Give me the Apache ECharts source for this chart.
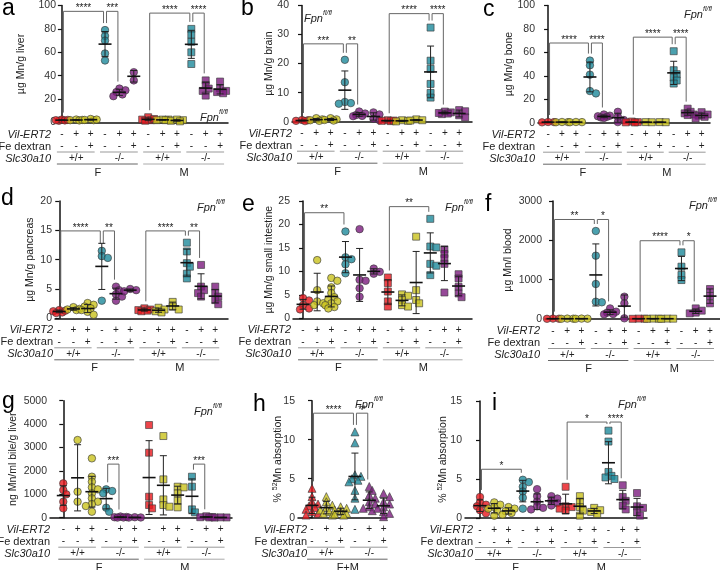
<!DOCTYPE html>
<html><head><meta charset="utf-8">
<script src="https://cdn.jsdelivr.net/npm/echarts@6/dist/echarts.min.js"></script>
<style>html,body{margin:0;padding:0;background:#fff}#c{width:720px;height:570px}</style>
</head><body><div id="c"></div>
<script>
// ---------- table / tick labels ----------
const vilRow = ['-','+','+','-','+','+','-','+','+','-','+','+'];
const feRow = ['-','-','+','-','-','+','-','-','+','-','-','+'];
const genotypeLabels = ['+/+','-/-','+/+','-/-'];
const sexLabels = ['F','M'];
const pooledSexLabels = ['F+M'];
const groupColors = ['#e8161d','#c9c21d','#c9c21d','#1e8a9b','#7c1c7e','#7c1c7e'];

const aTicks = [0,20,40,60,80,100];
const bTicks = [0,10,20,30,40];
const cTicks = [0,20,40,60,80,100];
const dTicks = [0,5,10,15,20];
const eTicks = [0,5,10,15,20,25];
const fTicks = [0,1000,2000,3000];
const gTicks = [0,1000,2000,3000,4000,5000];
const hTicks = [0,5,10,15];
const iTicks = [0,5,10,15];

// ---------- values (groups: F red, F yel, F yel, F teal, F pur, F pur, M ...) ----------
const aData = [
 [1.5,2.5,2,1.8,2.2],[2,2.5,1.8,2.2],[2,3,2.5,2.2],
 [79,74,70,59,53],[29,27.5,26,24,22.5],[43,36],
 [4.5,2,2.5,3,1.5],[2.5,2,2.5,2],[2,1.5,2.5,1],
 [80,75,69,60,50],[36,32,29,27,23],[35,29,27,26,25]
];
const bData = [
 [0.5,0.3,0.6,0.2],[1.2,0.8,0.5,0.3],[1.2,0.8,0.6,0.4],
 [21.3,13.6,6.8,6.4,6.2],[3.5,2.8,2.3,2.0,1.9],[3.2,2.5,1.0,0.5],
 [0.5,0.3,0.2,0.4],[0.5,0.3,0.1],[0.8,0.4,0.5],
 [32.4,21,18.2,13,9.9,8.3],[3.5,3.2,2.8,2.6,3.0],[4.0,3.6,2.2,1.5]
];
const cData = [
 [0.5,0.3,0.6],[0.5,0.4,0.6],[0.5,0.4,0.6],
 [53,49,41,27,25],[7,6,5.5,5,4.5,4],[9.3,5,2.3,0.5],
 [1,0.5,0.3,0.2],[0.5,0.4],[0.5,0.4],
 [61,44.8,41.4,38.5,36,33.4],[12,9.3,8,7,6.5],[9,7,6,5,3.7]
];
const dData = [
 [1.4,1.2,1.0,1.3,0.9],[1.9,1.6,1.4,1.5],[2.6,2.3,2.0,1.7,1.4,1.1,0.6],
 [11.5,10.6,10.3,3.0],[5.4,4.8,4.1,3.7,3.0],[5.0,4.8,4.6],
 [1.7,1.5,1.3,1.4,1.2],[1.8,1.5,1.2,1.0],[2.8,2.0,1.5],
 [12.9,11.4,9.4,8.8,7.6,6.8],[9.1,5.4,4.8,4.3,3.7],[5.4,4.3,3.7,3.1,2.4]
];
const eData = [
 [4.3,3.8,2.8,2.1,1.9],[12.4,6.0,3.6,3.2,2.8],[8.6,8.0,6.6,5.4,4.5,4.0,3.6,3.2,2.8,2.4,2.1],
 [18.5,13.0,12.6,11.5,9.6],[19.0,8.2,8.0,6.4,4.6],[10.6,9.9,9.5],
 [8.7,7.5,5.7,3.6,2.5],[5.1,4.8,3.9,2.8,2.5],[17.4,6.0,3.9,3.2],
 [21.2,15.3,15.1,11.6,11.2,9.2],[14.7,13.7,12.8,11.6,5.5],[9.4,8.5,6.7,5.3,4.5]
];
const fData = [
 [10,5,8],[10,5,8],[10,8,5],
 [2237,1610,890,440,424],[270,186,161,127,118],[568,398,17],
 [10,5,8],[10,5,8],[10,5,8],
 [1695,1330,1119,990],[270,212,161,144],[763,585,398]
];
const gData = [
 [1467,1182,997,684,399],[3319,1111,684],[2536,1752,1538,1296,1211,1040,826,684,584,499,256],
 [1211,1140,1040,427,256],[50,30,20,10,5],[20,10,5],
 [3960,2778,897,541,399],[3490,1638,783,541,470],[1325,1296,1040,726,442],
 [1752,1325,356,228],[60,30,20,10],[10,5,15]
];
const hData = [
 [3.76,2.7,2.05,1.75,1.5,1.3,1.07,0.77,0.55,0.34],
 [2.7,2.05,1.6,1.3,1.0,0.77,0.55,0.34],
 [1.4,1.2,1.0,0.77,0.55,0.47,0.34],
 [11.0,9.6,5.5,5.3,5.0,4.8,4.6,3.5,2.5,1.07],
 [4.0,3.5,2.9,2.5,2.05,1.75,1.4,1.2,0.9],
 [3.1,2.7,2.05,1.75,1.4,1.2,0.77,0.55,0.13]
];
const iData = [
 [2.7,2.0,1.7,1.5,1.0,0.6],[2.0,1.7,1.4,1.2,0.9,0.3],[1.4,1.2,0.86,0.65,0.43],
 [4.9,4.6,4.0,3.4,2.6,1.2],[3.7,2.8,2.1,1.5,1.3,1.1],[2.8,2.5,2.2,1.9,1.6],
 [4.0,1.5,1.4,1.2,0.95],[2.8,2.1,1.4,0.95,0.3],[1.3,1.0,0.78,0.52],
 [11.2,9.8,5.9,5.4,5.2,5.0],[4.2,2.7,2.2,1.6,1.1],[3.2,1.5,1.3,0.73,0.3]
];

// ---------- significance brackets [fromGroup, toGroup, height, label] ----------
const aBrackets = [[0,3,95,'****'],[3,4,95,'***'],[6,9,93.5,'****'],[9,10,93.5,'****']];
const bBrackets = [[0,3,26.8,'***'],[3,4,26.8,'**'],[6,9,37.2,'****'],[9,10,37.2,'****']];
const cBrackets = [[0,3,68,'****'],[3,4,68,'****'],[6,9,73,'****'],[9,10,73,'****']];
const dBrackets = [[0,3,14.9,'****'],[3,4,14.9,'**'],[6,9,14.9,'****'],[9,10,14.9,'**']];
const eBrackets = [[0,3,22.5,'**'],[6,9,23.8,'**']];
const fBrackets = [[0,3,2530,'**'],[3,4,2530,'*'],[6,9,1990,'****'],[9,10,1990,'*']];
const gBrackets = [[3,4,2290,'***'],[9,10,2290,'***']];
const hBrackets = [[0,3,13.4,'****'],[3,4,13.4,'**']];
const iBrackets = [[0,3,6.25,'*'],[6,9,12.3,'*'],[9,10,12.3,'****']];

const FF = "'Liberation Sans', Arial, Helvetica, sans-serif";
const SUPNAME = '% {sup|52}Mn absorption';

// ---------- layout ----------
const panels = [
 {data:aData, br:aBrackets, ticks:aTicks, name:'µg Mn/g liver', left:59, top:5, width:169, height:117.5, xMin:-0.2, xMax:11.55, gap:31, move:false, lr:51, sym:['circle','rect'], sex:sexLabels},
 {data:bData, br:bBrackets, ticks:bTicks, name:'µg Mn/g brain', left:292, top:4.5, width:180, height:117.2, xMin:-0.7, xMax:11.9, gap:16, move:false, lr:292, sym:['circle','rect'], sex:sexLabels},
 {data:cData, br:cBrackets, ticks:cTicks, name:'µg Mn/g bone', left:538, top:5, width:172, height:117.7, xMin:-0.72, xMax:11.6, gap:22, move:false, lr:535, sym:['circle','rect'], sex:sexLabels},
 {data:dData, br:dBrackets, ticks:dTicks, name:'µg Mn/g pancreas', left:55, top:201, width:173, height:117.3, xMin:-0.3, xMax:11.9, gap:18, move:false, lr:53, sym:['circle','rect'], sex:sexLabels},
 {data:eData, br:eBrackets, ticks:eTicks, name:'µg Mn/g small intestine', left:293, top:201, width:179, height:117.3, xMin:-0.71, xMax:11.95, gap:17, move:false, lr:291, sym:['circle','rect'], sex:sexLabels},
 {data:fData, br:fBrackets, ticks:fTicks, name:'µg Mn/l blood', left:545, top:201, width:175, height:118, xMin:-0.56, xMax:11.7, gap:18, move:true, lr:540, sym:['circle','rect'], sex:sexLabels},
 {data:gData, br:gBrackets, ticks:gTicks, name:'ng Mn/ml bile/g liver', left:50, top:400.7, width:182, height:117, xMin:-0.93, xMax:11.8, gap:20, move:true, lr:50, sym:['circle','rect'], sex:sexLabels},
 {data:hData, br:hBrackets, ticks:hTicks, name:SUPNAME, left:298, top:400.7, width:89, height:117, xMin:-0.98, xMax:5.24, gap:13, move:false, lr:307, sym:['triangle','triangle'], sex:pooledSexLabels},
 {data:iData, br:iBrackets, ticks:iTicks, name:SUPNAME, left:465, top:401, width:182, height:117, xMin:-1.05, xMax:11.7, gap:15, move:false, lr:473, sym:['circle','rect'], sex:sexLabels}
];
const letters = [['a',2,-3],['b',241,-3],['c',483,-2],['d',1,187],['e',242,193],['f',485,193],['g',2,390],['h',253,393],['i',492,392]];
const fpnPos = [[200,109],[304,10],[684,6],[197,199],[445,199],[689,197],[194,403],[355,396],[618,396]];

// deterministic compact beeswarm: horizontal offsets (px) limited to +-6px
function swarm(vals, ppu, gpx, size){
  const idx = vals.map((v,i)=>i).sort((i,j)=>vals[j]-vals[i]);
  const placed = []; const off = vals.map(()=>0);
  const cands = [0,3,-3,6,-6];
  const thr = size*0.6;
  idx.forEach(i=>{
    const y = vals[i]*ppu;
    let best = 0, bestD = -1;
    for (const dx of cands){
      const d = placed.length ? Math.min.apply(null, placed.map(p=>Math.hypot(p[0]-dx,p[1]-y))) : 1e9;
      if (d >= thr){ best = dx; bestD = d; break; }
      if (d > bestD){ bestD = d; best = dx; }
    }
    placed.push([best,y]); off[i] = best/gpx;
  });
  return off;
}
function stats(v){
  const m = v.reduce((a,b)=>a+b,0)/v.length;
  const sd = v.length>1 ? Math.sqrt(v.reduce((a,b)=>a+(b-m)*(b-m),0)/(v.length-1)) : 0;
  return [m, sd];
}

const grid=[], xAxis=[], yAxis=[], series=[], graphic=[];
panels.forEach((p,pi)=>{
  const yMax = p.ticks[p.ticks.length-1];
  const interval = p.ticks[1]-p.ticks[0];
  grid.push({left:p.left, top:p.top, width:p.width, height:p.height});
  xAxis.push({type:'value', gridIndex:pi, min:p.xMin, max:p.xMax,
    axisLine:{show:true, onZero:false, lineStyle:{color:'#111', width:1.5}},
    axisTick:{show:false}, axisLabel:{show:false}, splitLine:{show:false}});
  yAxis.push({type:'value', gridIndex:pi, min:0, max:yMax, interval:interval,
    axisLine:{show:true, lineStyle:{color:'#111', width:1.5}},
    axisTick:{show:true, length:4, lineStyle:{color:'#111', width:1.2}},
    axisLabel:{fontSize:10.5, color:'#333', margin:3, fontFamily:FF, formatter:v=>String(v)},
    splitLine:{show:false},
    name:p.name, nameLocation:'middle', nameGap:p.gap, nameMoveOverlap:p.move,
    nameTextStyle:{fontSize:10.5, color:'#222', fontFamily:FF, lineHeight:13,
      rich:{sup:{fontSize:7, color:'#222', fontFamily:FF, verticalAlign:'top', lineHeight:9}}}});
  const ppu = p.height/yMax, gpx = p.width/(p.xMax-p.xMin);
  const pts=[], bars=[];
  p.data.forEach((vals,g)=>{
    const sexIdx = Math.floor(g/6);
    const symbol = p.sym[sexIdx];
    const size = symbol==='triangle'?8:(symbol==='rect'?7:7.5);
    const off = swarm(vals, ppu, gpx, size);
    vals.forEach((v,k)=>pts.push({value:[g+off[k], v], symbol:symbol, symbolSize:size,
      itemStyle:{color:groupColors[g%6], borderColor:'#3a3a3a', borderWidth:0.8}}));
    const st = stats(vals);
    bars.push([g, st[0], st[1]]);
  });
  const groupMax = p.data.map(v=>Math.max.apply(null,v));
  // brackets
  series.push({type:'custom', xAxisIndex:pi, yAxisIndex:pi, clip:false, z:1, silent:true,
    data:p.br.map(b=>[b[0], b[1], b[2], groupMax[b[0]], groupMax[b[1]]]),
    renderItem:(params, api)=>{
      const x1=api.value(0), x2=api.value(1), top=api.value(2);
      const t1=api.coord([x1,top]), t2=api.coord([x2,top]);
      const e1=api.coord([x1,api.value(3)]), e2=api.coord([x2,api.value(4)]);
      const ya = Math.max(t1[1]+2, e1[1]-7), yb = Math.max(t2[1]+2, e2[1]-7);
      const xa = t1[0]+1.5, xb = t2[0]-1.5;
      return {type:'group', children:[
        {type:'polyline', shape:{points:[[xa,ya],[xa,t1[1]],[xb,t1[1]],[xb,yb]]}, style:{stroke:'#666', lineWidth:1, fill:null}},
        {type:'text', style:{text:p.br[params.dataIndex][3], x:(xa+xb)/2, y:t1[1]-3, align:'center', verticalAlign:'middle', fontSize:10, fontFamily:FF, fill:'#222'}}
      ]};
    }});
  series.push({type:'scatter', xAxisIndex:pi, yAxisIndex:pi, clip:false, z:2, data:pts, silent:true});
  // error bars (mean ± SD)
  series.push({type:'custom', xAxisIndex:pi, yAxisIndex:pi, clip:false, z:3, silent:true, data:bars,
    renderItem:(params, api)=>{
      const x=api.value(0), m=api.value(1), s=api.value(2);
      const c=api.coord([x,m]), hi=api.coord([x,m+s]), lo=api.coord([x,Math.max(0,m-s)]);
      const st={stroke:'#222', lineWidth:1};
      return {type:'group', children:[
        {type:'line', shape:{x1:c[0],y1:hi[1],x2:c[0],y2:lo[1]}, style:st},
        {type:'line', shape:{x1:c[0]-3.5,y1:hi[1],x2:c[0]+3.5,y2:hi[1]}, style:st},
        {type:'line', shape:{x1:c[0]-3.5,y1:lo[1],x2:c[0]+3.5,y2:lo[1]}, style:st},
        {type:'line', shape:{x1:c[0]-6.5,y1:c[1],x2:c[0]+6.5,y2:c[1]}, style:{stroke:'#111', lineWidth:1.6}}
      ]};
    }});
  // genotype table below the axis
  series.push({type:'custom', xAxisIndex:pi, yAxisIndex:pi, clip:false, z:1, silent:true, data:[[0,0]],
    renderItem:(params, api)=>{
      const n = p.data.length;
      const y0 = api.coord([0,0])[1];
      const gx = g=>api.coord([g,0])[0];
      const ch=[];
      const txt=(t,x,y,o)=>ch.push({type:'text', style:Object.assign({text:t, x:x, y:y, align:'center', verticalAlign:'middle', fontSize:10, fontFamily:FF, fill:'#222'}, o||{})});
      const ln=(x1,x2,y,c)=>ch.push({type:'line', shape:{x1:x1,y1:y,x2:x2,y2:y}, style:{stroke:c, lineWidth:1}});
      for (let g=0; g<n; g++){ txt(vilRow[g], gx(g), y0+12); txt(feRow[g], gx(g), y0+24); }
      for (let t=0; t<n/3; t++){ ln(gx(3*t)-5, gx(3*t+2)+4, y0+29.5, '#999'); txt(genotypeLabels[t], gx(3*t+1), y0+36); }
      for (let s=0; s<n/6; s++){ ln(gx(6*s)-5, gx(6*s+5)+4, y0+41.5, s?'#aaa':'#666'); txt(p.sex[s], (gx(6*s+2)+gx(6*s+3))/2, y0+50, {fontSize:11}); }
      txt('Vil-ERT2', p.lr, y0+12, {align:'right', fontStyle:'italic', fontSize:11});
      txt('Fe dextran', p.lr, y0+24, {align:'right', fontSize:11});
      txt('Slc30a10', p.lr, y0+36, {align:'right', fontStyle:'italic', fontSize:11});
      return {type:'group', children:ch};
    }});
});
letters.forEach(l=>graphic.push({type:'text', left:l[1], top:l[2], style:{text:l[0], fontSize:23, fontFamily:FF, fill:'#000'}}));
fpnPos.forEach(f=>graphic.push({type:'text', left:f[0], top:f[1], style:{text:'{a|Fpn}{b|fl/fl}', fontFamily:FF,
  rich:{a:{fontSize:11, fontStyle:'italic', fontFamily:FF, fill:'#222', lineHeight:14, verticalAlign:'bottom'},
        b:{fontSize:7, fontStyle:'italic', fontFamily:FF, fill:'#222', lineHeight:8, verticalAlign:'top'}}}}));

const chart = echarts.init(document.getElementById('c'), null, {renderer:'canvas'});
chart.setOption({animation:false, backgroundColor:'#fff', grid, xAxis, yAxis, series, graphic});
</script></body></html>
